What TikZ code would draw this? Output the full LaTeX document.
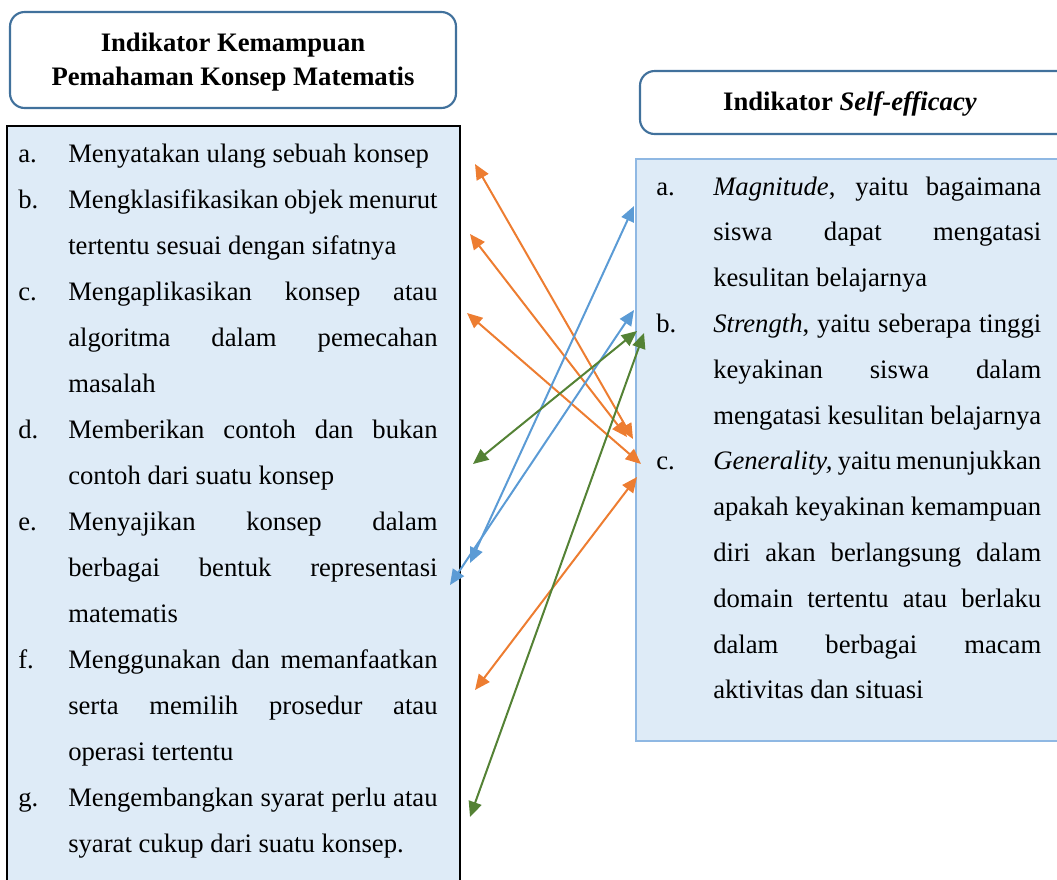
\documentclass[tikz,border=0pt]{standalone}
\usepackage{fontspec}
\setmainfont{Liberation Serif}
\usepackage{xcolor}
\usetikzlibrary{positioning, arrows.meta}

\definecolor{boxfill}{HTML}{DEEBF7}
\definecolor{hdrline}{HTML}{41719C}
\definecolor{rboxline}{HTML}{8FB8E3}
\definecolor{arrorange}{HTML}{ED7D31}
\definecolor{arrblue}{HTML}{5B9BD5}
\definecolor{arrgreen}{HTML}{548235}

\tikzset{
  hdrbox/.style={draw=hdrline, line width=1.6pt, rounded corners=11pt, fill=white},
  hdrtext/.style={anchor=base, inner sep=0pt, align=center, font=\fontsize{20}{25}\selectfont\bfseries},
  letter/.style={anchor=base west, inner sep=0pt, font=\fontsize{20}{34.5}\selectfont},
  leftitem/.style={anchor=base west, inner sep=0pt, text width=277pt, align=justify, font=\fontsize{20}{34.5}\selectfont},
  rightitem/.style={anchor=base west, inner sep=0pt, text width=246pt, align=justify, font=\fontsize{20}{34.35}\selectfont},
  link/.style={line width=1.5pt, {Triangle[length=11.5pt,width=10pt]}-{Triangle[length=11.5pt,width=10pt]}}
}

\begin{document}
\begin{tikzpicture}[x=0.75pt, y=-0.75pt]
\useasboundingbox (0,0) rectangle (1057,879);
\clip (0,0) rectangle (1057,879);

% headers
\draw[hdrbox] (10,12) rectangle (456,108);
\node[hdrtext] (hdrL) at (233,85) {Indikator Kemampuan\\Pemahaman Konsep Matematis};
\draw[hdrbox] (640,71) rectangle (1075,134);
\node[hdrtext] (hdrR) at (850,110) {Indikator \textit{Self-efficacy}};

% boxes
\draw[black, line width=1pt, fill=boxfill] (7,126) rectangle (460,890);
\draw[rboxline, line width=1.2pt, fill=boxfill] (636,159) rectangle (1075,741);

% left list
\node[letter] (la) at (18,162) {a.};
\node[leftitem] (ta) at (68,162) {Menyatakan ulang sebuah konsep};
\node[letter] (lb) at (18,208) {b.};
\node[leftitem] (tb) at (68,208) {Mengklasifikasikan objek menurut\linebreak tertentu sesuai dengan sifatnya};
\node[letter] (lc) at (18,300) {c.};
\node[leftitem] (tc) at (68,300) {Mengaplikasikan konsep atau\linebreak algoritma dalam pemecahan\linebreak masalah};
\node[letter] (ld) at (18,438) {d.};
\node[leftitem] (td) at (68,438) {Memberikan contoh dan bukan\linebreak contoh dari suatu konsep};
\node[letter] (le) at (18,530) {e.};
\node[leftitem] (te) at (68,530) {Menyajikan konsep dalam\linebreak berbagai bentuk representasi\linebreak matematis};
\node[letter] (lf) at (18,668) {f.};
\node[leftitem] (tf) at (68,668) {Menggunakan dan memanfaatkan\linebreak serta memilih prosedur atau\linebreak operasi tertentu};
\node[letter] (lg) at (18,806) {g.};
\node[leftitem] (tg) at (68,806) {Mengembangkan syarat perlu atau\linebreak syarat cukup dari suatu konsep.};

% right list
\node[letter] (ra) at (656,195) {a.};
\node[rightitem] (sa) at (713,195) {\textit{Magnitude}, yaitu bagaimana\linebreak siswa dapat mengatasi\linebreak kesulitan belajarnya};
\node[letter] (rb) at (656,332.4) {b.};
\node[rightitem] (sb) at (713,332.4) {\textit{Strength}, yaitu seberapa tinggi\linebreak keyakinan siswa dalam\linebreak mengatasi kesulitan belajarnya};
\node[letter] (rc) at (656,469.8) {c.};
\node[rightitem] (sc) at (713,469.8) {\textit{Generality,} yaitu menunjukkan\linebreak apakah keyakinan kemampuan\linebreak diri akan berlangsung dalam\linebreak domain tertentu atau berlaku\linebreak dalam berbagai macam\linebreak aktivitas dan situasi};

% arrow ends
\coordinate (o1L) at (475,164);  \coordinate (o1R) at (633,439);
\coordinate (o2L) at (470,234);  \coordinate (o2R) at (627,437);
\coordinate (o3L) at (467,313);  \coordinate (o3R) at (641,464);
\coordinate (o4L) at (475,690);  \coordinate (o4R) at (637,477);
\coordinate (b1L) at (470,563);  \coordinate (b1R) at (634,206);
\coordinate (b2L) at (450,585);  \coordinate (b2R) at (634,310);
\coordinate (g1L) at (473,464);  \coordinate (g1R) at (637,331);
\coordinate (g2L) at (470,817);  \coordinate (g2R) at (644,333);

\draw[link, arrorange] (o1L) -- (o1R);
\draw[link, arrorange] (o2L) -- (o2R);
\draw[link, arrorange] (o3L) -- (o3R);
\draw[link, arrorange] (o4L) -- (o4R);
\draw[link, arrblue] (b1L) -- (b1R);
\draw[link, arrblue] (b2L) -- (b2R);
\draw[link, arrgreen] (g1L) -- (g1R);
\draw[link, arrgreen] (g2L) -- (g2R);

\end{tikzpicture}
\end{document}
